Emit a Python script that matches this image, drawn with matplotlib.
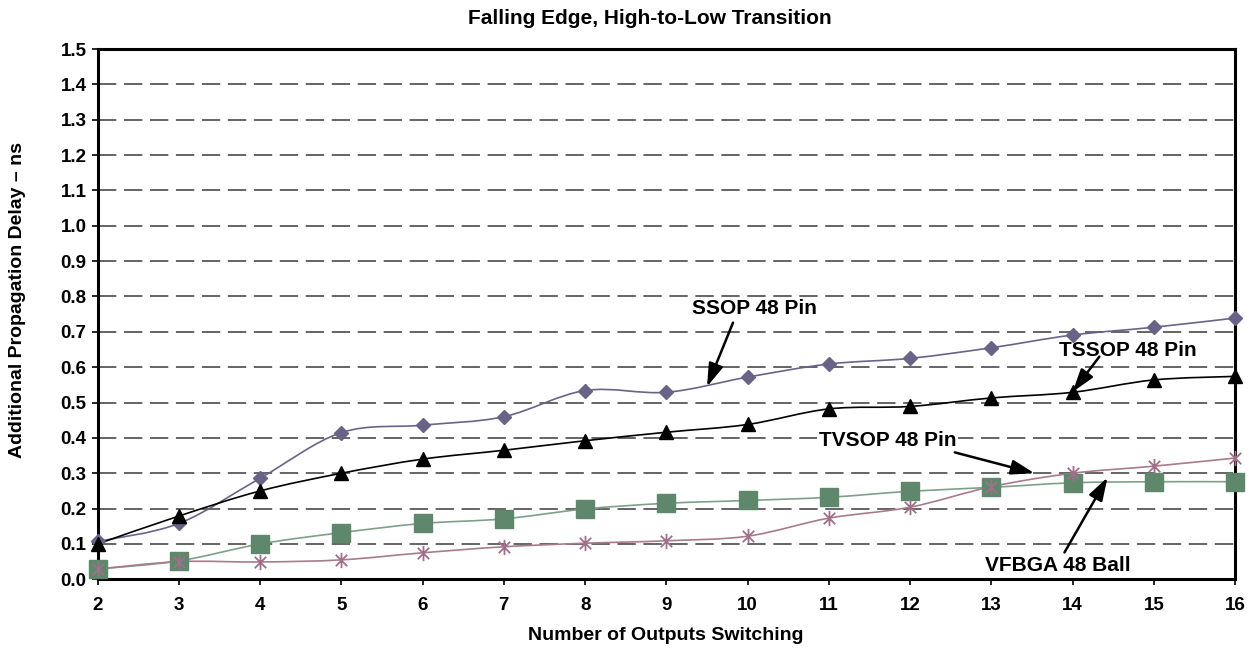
import matplotlib
matplotlib.use('Agg')
import matplotlib.pyplot as plt
import numpy as np
from matplotlib.path import Path
from matplotlib.patches import PathPatch

plt.rcParams['font.family'] = ['Liberation Sans', 'DejaVu Sans']
plt.rcParams['font.weight'] = 'bold'

# number of outputs switching
outputs = [2, 3, 4, 5, 6, 7, 8, 9, 10, 11, 12, 13, 14, 15, 16]

# additional propagation delay (ns) per package
ssop = [0.107, 0.158, 0.286, 0.415, 0.436, 0.460, 0.534, 0.529, 0.572, 0.609,
        0.625, 0.655, 0.691, 0.713, 0.739]
tssop = [0.100, 0.179, 0.250, 0.300, 0.340, 0.365, 0.392, 0.416, 0.438, 0.482,
         0.489, 0.513, 0.529, 0.564, 0.574]
vfbga = [0.029, 0.052, 0.100, 0.132, 0.158, 0.171, 0.199, 0.215, 0.223, 0.232,
         0.249, 0.260, 0.273, 0.276, 0.276]
tvsop = [0.029, 0.050, 0.049, 0.055, 0.075, 0.092, 0.102, 0.109, 0.122, 0.173,
         0.204, 0.262, 0.300, 0.320, 0.343]

y_ticks = [0.0, 0.1, 0.2, 0.3, 0.4, 0.5, 0.6, 0.7, 0.8, 0.9, 1.0, 1.1, 1.2, 1.3, 1.4, 1.5]

# label text, text anchor, arrow tail, arrow head (data units)
labels = [
    ('SSOP 48 Pin', (10.08, 0.765), (9.82, 0.726), (9.50, 0.545)),
    ('TSSOP 48 Pin', (14.68, 0.647), (14.33, 0.630), (14.00, 0.530)),
    ('TVSOP 48 Pin', (11.72, 0.393), (12.55, 0.359), (13.53, 0.300)),
    ('VFBGA 48 Ball', (13.82, 0.040), (13.90, 0.076), (14.43, 0.288)),
]


def smooth_path(x, y):
    # cubic bezier through every point, like a spreadsheet "smoothed line"
    x = np.asarray(x, float)
    y = np.asarray(y, float)
    verts = [(x[0], y[0])]
    codes = [Path.MOVETO]
    n = len(x)
    for i in range(n - 1):
        p0 = np.array([x[max(i - 1, 0)], y[max(i - 1, 0)]])
        p1 = np.array([x[i], y[i]])
        p2 = np.array([x[i + 1], y[i + 1]])
        p3 = np.array([x[min(i + 2, n - 1)], y[min(i + 2, n - 1)]])
        c1 = p1 + (p2 - p0) / 6.0
        c2 = p2 - (p3 - p1) / 6.0
        verts += [tuple(c1), tuple(c2), tuple(p2)]
        codes += [Path.CURVE4] * 3
    return Path(verts, codes)


star = Path([(0, -1), (0, 1), (-0.75, -0.75), (0.75, 0.75), (-0.75, 0.75), (0.75, -0.75)],
            [Path.MOVETO, Path.LINETO, Path.MOVETO, Path.LINETO, Path.MOVETO, Path.LINETO])

fig = plt.figure(figsize=(12.59, 6.52), dpi=100)
ax = fig.add_axes([0.0776, 0.1115, 0.9034, 0.8133])

series = [
    (ssop, '#6a6388', '#6a6388', 'D', 6.8, {}),
    (tssop, '#000000', '#000000', '^', 9.5, {}),
    (vfbga, '#7fa088', '#5f876b', 's', 13, {}),
    (tvsop, '#a87b8c', '#a0708a', star, 11, {'markerfacecolor': 'none', 'markeredgewidth': 1.3}),
]

# short stem joining the first points of the lowest and TSSOP curves
ax.plot([outputs[0], outputs[0]], [vfbga[0], tssop[0]], color='black', lw=2, zorder=8,
        clip_on=False)

for vals, lc, mc, mk, ms, extra in series:
    ax.add_patch(PathPatch(smooth_path(outputs, vals), fill=False, edgecolor=lc, lw=1.2, zorder=3))
    kw = dict(marker=mk, markersize=ms, color=mc, markeredgecolor=mc, linestyle='none',
              zorder=9, clip_on=False)
    kw.update(extra)
    ax.plot(outputs, vals, **kw)

for text, xy_text, tail, head in labels:
    ax.text(xy_text[0], xy_text[1], text, ha='center', va='center', fontsize=15,
            fontweight='bold', zorder=5,
            bbox=dict(facecolor='white', edgecolor='none', pad=1))
    ax.annotate('', xy=head, xytext=tail, zorder=6,
                arrowprops=dict(arrowstyle='-|>,head_length=1.4,head_width=0.45',
                                color='black', lw=1.8, shrinkA=0, shrinkB=0))

ax.set_xlim(outputs[0], outputs[-1])
ax.set_ylim(0, 1.5)
ax.set_xticks(outputs)
ax.set_yticks(y_ticks)
ax.set_yticklabels([f'{v:.1f}' for v in y_ticks])
ax.tick_params(axis='both', labelsize=13.5, width=1.2, length=4, direction='out')
ax.tick_params(axis='x', pad=9)
ax.tick_params(axis='y', pad=4)
for lab in ax.get_xticklabels() + ax.get_yticklabels():
    lab.set_fontweight('bold')

ax.yaxis.grid(True, color='#3a3a3a', lw=1.1, dashes=(12, 5))
ax.set_axisbelow(True)
for s in ax.spines.values():
    s.set_linewidth(2.2)
    s.set_zorder(7)

fig.text(0.516, 1 - 18 / 652, 'Falling Edge, High-to-Low Transition', ha='center', va='center',
         fontsize=15, fontweight='bold')
fig.text(0.529, 1 - 636 / 652, 'Number of Outputs Switching', ha='center', va='center',
         fontsize=14, fontweight='bold')
fig.text(18 / 1259, 1 - 300 / 652, 'Additional Propagation Delay – ns', ha='center', va='center',
         rotation=90, fontsize=14, fontweight='bold')

fig.savefig('out.png', dpi=100)
